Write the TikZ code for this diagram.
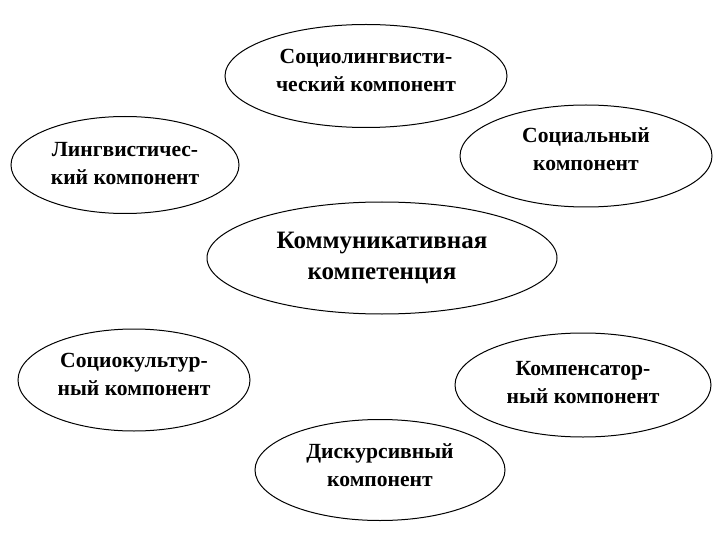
\documentclass[tikz,border=0pt]{standalone}
\usepackage{fontspec}
\setmainfont{Liberation Serif}
\usetikzlibrary{shapes.geometric}
\begin{document}
\begin{tikzpicture}[x=1pt,y=-1pt,
  comp/.style={draw=black, line width=1pt, ellipse, inner sep=0pt},
  txt/.style={align=center, inner sep=0pt, font=\fontsize{21.6}{28}\selectfont\bfseries},
  bigtxt/.style={txt, font=\fontsize{25}{31}\selectfont\bfseries}]
\useasboundingbox[fill=white] (0,0) rectangle (720,540);
\node[comp, minimum width=282, minimum height=103] (soclin) at (366,76) {};
\node[txt] (soclint) at ([yshift=6pt]soclin.center) {Социолингвисти-\\ческий компонент};
\node[comp, minimum width=228, minimum height=97] (ling) at (125,165) {};
\node[txt] (lingt) at ([yshift=1pt]ling.center) {Лингвистичес-\\кий компонент};
\node[comp, minimum width=252, minimum height=102] (soc) at (586,156) {};
\node[txt] (soct) at ([yshift=7pt]soc.center) {Социальный\\компонент};
\node[comp, minimum width=350, minimum height=112] (comm) at (382,258) {};
\node[bigtxt] (commt) at (comm.center) {Коммуникативная\\компетенция};
\node[comp, minimum width=232, minimum height=102] (socul) at (134,380) {};
\node[txt] (socult) at ([yshift=6pt]socul.center) {Социокультур-\\ный компонент};
\node[comp, minimum width=256, minimum height=104] (comp) at (583,385) {};
\node[txt] (compt) at ([yshift=2pt]comp.center) {Компенсатор-\\ный компонент};
\node[comp, minimum width=250, minimum height=101] (disc) at (380,470) {};
\node[txt] (disct) at ([yshift=5pt]disc.center) {Дискурсивный\\компонент};
\end{tikzpicture}
\end{document}
